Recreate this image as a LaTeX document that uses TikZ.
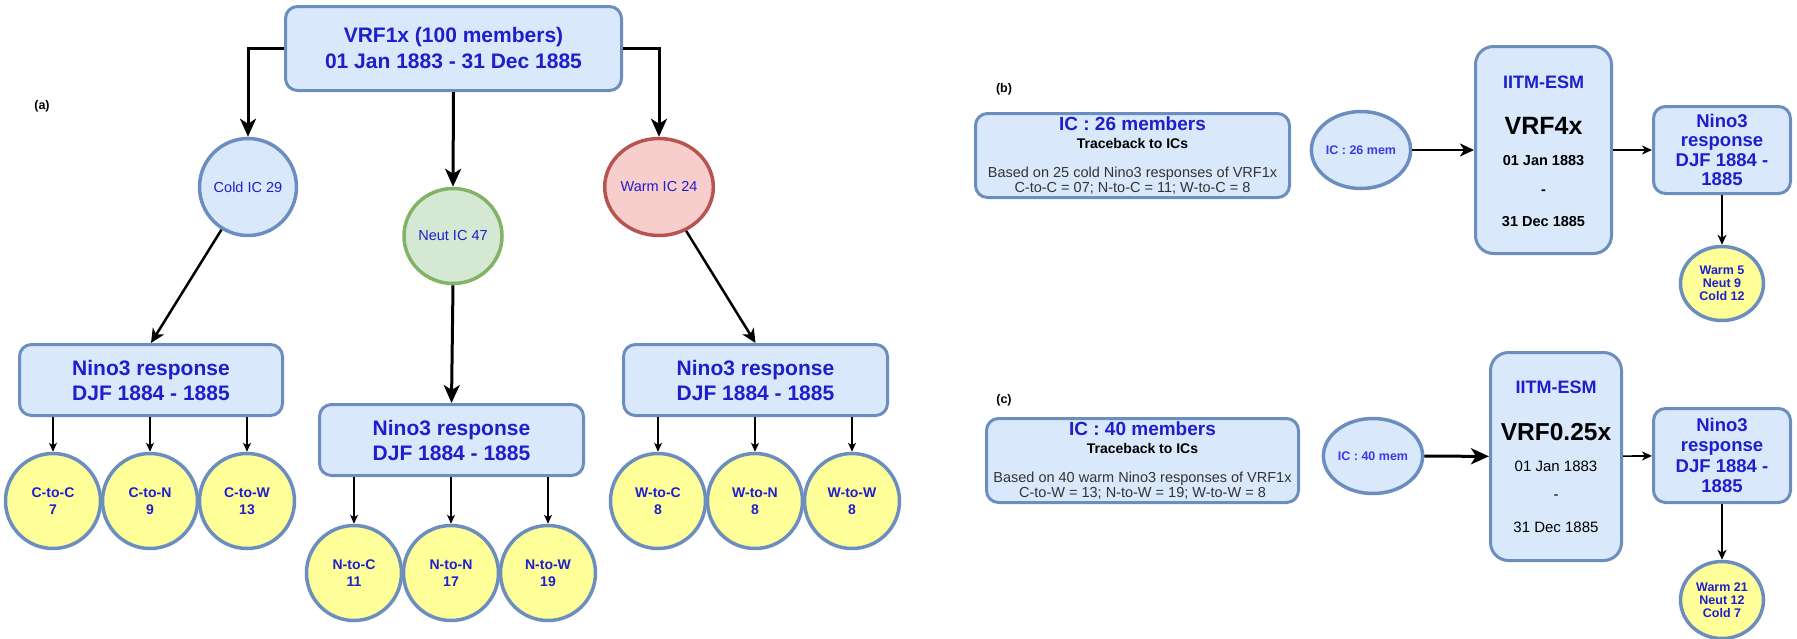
\documentclass[tikz,border=0pt]{standalone}
\usepackage{fontspec}
\setmainfont{Liberation Sans}
\usetikzlibrary{arrows.meta,shapes.geometric,calc}
\definecolor{bfill}{HTML}{DAE8FC}
\definecolor{bline}{HTML}{6C8EBF}
\definecolor{gfill}{HTML}{D5E8D4}
\definecolor{gline}{HTML}{82B366}
\definecolor{rfill}{HTML}{F8CECC}
\definecolor{rline}{HTML}{B85450}
\definecolor{yfill}{HTML}{FFFF99}
\definecolor{tblue}{HTML}{1E1ECC}
\definecolor{lblue}{HTML}{3A3AE6}
\definecolor{tgray}{HTML}{333333}
\newcommand\setfs[2]{\fontsize{#1}{#2}\selectfont}
\begin{document}
\begin{tikzpicture}[x=1pt,y=-1pt,
  bbox/.style={draw=bline, fill=bfill, line width=3pt, rounded corners=12pt, inner sep=0pt, align=center},
  circ/.style={ellipse, draw=bline, fill=bfill, line width=3.5pt, inner sep=0pt, align=center},
  ycirc/.style={circ, fill=yfill, minimum width=95pt, minimum height=95pt, text=tblue, font=\setfs{14}{17}\bfseries},
  bigarrow/.style={line width=3pt, -{Stealth[length=18pt,width=16pt,inset=5pt]}},
  midarrow/.style={line width=2.5pt, -{Stealth[length=14pt,width=13pt,inset=4pt]}},
  smallarrow/.style={line width=1.1pt, -{Stealth[length=9pt,width=8pt,inset=2.5pt]}},
  thinarrow/.style={line width=1.6pt, -{Stealth[length=10pt,width=9pt,inset=3pt]}},
  ntext/.style={text=tblue, font=\setfs{21}{25}\bfseries},
  lab/.style={font=\setfs{12.5}{14}\bfseries}
]
\useasboundingbox (0,0) rectangle (1797,638);

% ---------------- panel (a)
\node[lab] (la) at (42,106) {(a)};
\node[bbox, minimum width=336pt, minimum height=84pt, text=tblue, font=\setfs{21}{26}\bfseries] (top) at (453.5,48.5) {VRF1x (100 members)\\01 Jan 1883 - 31 Dec 1885};

\node[circ, minimum width=97pt, minimum height=97pt, text=tblue, font=\setfs{14.5}{17}] (cold) at (248,187) {Cold IC 29};
\node[circ, draw=gline, fill=gfill, minimum width=95pt, minimum height=95pt, text=tblue, font=\setfs{14.5}{17}] (neut) at (453,236) {Neut IC 47};
\node[circ, draw=rline, fill=rfill, minimum width=97pt, minimum height=97pt, text=tblue, font=\setfs{14.5}{17}] (warm) at (659,187) {Warm IC 24};

\draw[bigarrow] (top.west) -| (cold.north);
\draw[bigarrow] (top.east) -| (warm.north);
\draw[bigarrow] (top.south) -- (neut.north);

\node[bbox, minimum width=263pt, minimum height=71pt, ntext] (nl) at (151,380) {Nino3 response\\DJF 1884 - 1885};
\node[bbox, minimum width=264pt, minimum height=71pt, ntext] (nm) at (451.5,440) {Nino3 response\\DJF 1884 - 1885};
\node[bbox, minimum width=264pt, minimum height=71pt, ntext] (nr) at (755.5,380) {Nino3 response\\DJF 1884 - 1885};

\draw[midarrow] (cold) -- (nl.north);
\draw[bigarrow] (neut.south) -- (nm.north);
\draw[midarrow] (warm) -- (nr.north);

\node[ycirc] (c1) at (53,501) {C-to-C\\7};
\node[ycirc] (c2) at (150,501) {C-to-N\\9};
\node[ycirc] (c3) at (247,501) {C-to-W\\13};
\node[ycirc] (m1) at (354,573) {N-to-C\\11};
\node[ycirc] (m2) at (451,573) {N-to-N\\17};
\node[ycirc] (m3) at (548,573) {N-to-W\\19};
\node[ycirc] (w1) at (658,501) {W-to-C\\8};
\node[ycirc] (w2) at (755,501) {W-to-N\\8};
\node[ycirc] (w3) at (852,501) {W-to-W\\8};

\foreach \c in {c1,c2,c3} \draw[smallarrow] (\c.north |- nl.south) -- (\c.north);
\foreach \c in {m1,m2,m3} \draw[smallarrow] (\c.north |- nm.south) -- (\c.north);
\foreach \c in {w1,w2,w3} \draw[smallarrow] (\c.north |- nr.south) -- (\c.north);

% ---------------- panel (b)
\node[lab] (lb) at (1004,89) {(b)};
\node[bbox, minimum width=314pt, minimum height=84pt] (icb) at (1132.5,155.5) {};
\node[text=tblue, font=\setfs{19}{22}\bfseries] (icb1) at ($(icb.center)+(0,-31.5)$) {IC : 26 members};
\node[font=\setfs{14}{16}\bfseries] (icb2) at ($(icb.center)+(0,-12.5)$) {Traceback to ICs};
\node[text=tgray, font=\setfs{14.5}{15.5}, align=center] (icb3) at ($(icb.center)+(0,25)$) {Based on 25 cold Nino3 responses of VRF1x\\C-to-C = 07; N-to-C = 11; W-to-C = 8};

\node[circ, minimum width=83pt, minimum height=77pt, text=lblue, font=\setfs{12.5}{14}\bfseries] (icc26) at (1361,150) {IC : 26 mem};
\node[bbox, rounded corners=18pt, minimum width=136pt, minimum height=207pt] (iitmb) at (1543.5,150) {};
\node[text=tblue, font=\setfs{18}{20}\bfseries] (ib1) at ($(iitmb.center)+(0,-68)$) {IITM-ESM};
\node[font=\setfs{25}{28}\bfseries] (ib2) at ($(iitmb.center)+(0,-24)$) {VRF4x};
\node[font=\setfs{14.5}{16}\bfseries] (ib3) at ($(iitmb.center)+(0,11)$) {01 Jan 1883};
\node[font=\setfs{14.5}{16}\bfseries] (ib4) at ($(iitmb.center)+(0,42)$) {-};
\node[font=\setfs{14.5}{16}\bfseries] (ib5) at ($(iitmb.center)+(0,72)$) {31 Dec 1885};
\node[bbox, minimum width=137pt, minimum height=87pt, text=tblue, font=\setfs{18.5}{19.5}\bfseries] (ninob) at (1722,150) {Nino3\\response\\DJF 1884 -\\1885};
\node[circ, fill=yfill, minimum width=83pt, minimum height=74pt, text=tblue, font=\setfs{12.5}{13}\bfseries] (yb) at (1722,283.5) {Warm 5\\Neut 9\\Cold 12};

\draw[midarrow] (icc26) -- (iitmb);
\draw[thinarrow] (iitmb) -- (ninob);
\draw[thinarrow] (ninob) -- (yb);

% ---------------- panel (c)
\node[lab] (lc) at (1004,400) {(c)};
\node[bbox, minimum width=312pt, minimum height=84pt] (icc) at (1142.5,460.5) {};
\node[text=tblue, font=\setfs{19}{22}\bfseries] (icc1) at ($(icc.center)+(0,-31.5)$) {IC : 40 members};
\node[font=\setfs{14}{16}\bfseries] (icc2) at ($(icc.center)+(0,-12.5)$) {Traceback to ICs};
\node[text=tgray, font=\setfs{14.5}{15.5}, align=center] (icc3) at ($(icc.center)+(0,25)$) {Based on 40 warm Nino3 responses of VRF1x\\C-to-W = 13; N-to-W = 19; W-to-W = 8};

\node[circ, minimum width=81pt, minimum height=75pt, text=lblue, font=\setfs{12.5}{14}\bfseries] (icc40) at (1373,456) {IC : 40 mem};
\node[bbox, rounded corners=18pt, minimum width=131pt, minimum height=208pt] (iitmc) at (1556,456.5) {};
\node[text=tblue, font=\setfs{18}{20}\bfseries] (ic1) at ($(iitmc.center)+(0,-69.5)$) {IITM-ESM};
\node[font=\setfs{24.5}{28}\bfseries] (ic2) at ($(iitmc.center)+(0,-24.5)$) {VRF0.25x};
\node[font=\setfs{15}{16}] (ic3) at ($(iitmc.center)+(0,9.5)$) {01 Jan 1883};
\node[font=\setfs{15}{16}] (ic4) at ($(iitmc.center)+(0,40.5)$) {-};
\node[font=\setfs{15}{16}] (ic5) at ($(iitmc.center)+(0,70.5)$) {31 Dec 1885};
\node[bbox, minimum width=137pt, minimum height=94pt, text=tblue, font=\setfs{18.5}{20.3}\bfseries] (ninoc) at (1722,455.5) {Nino3\\response\\DJF 1884 -\\1885};
\node[circ, fill=yfill, minimum width=83pt, minimum height=77pt, text=tblue, font=\setfs{12.5}{13}\bfseries] (yc) at (1722,600) {Warm 21\\Neut 12\\Cold 7};

\draw[bigarrow, line width=3pt] (icc40) -- (iitmc);
\draw[thinarrow] (iitmc) -- (ninoc);
\draw[thinarrow] (ninoc) -- (yc);
\end{tikzpicture}
\end{document}
